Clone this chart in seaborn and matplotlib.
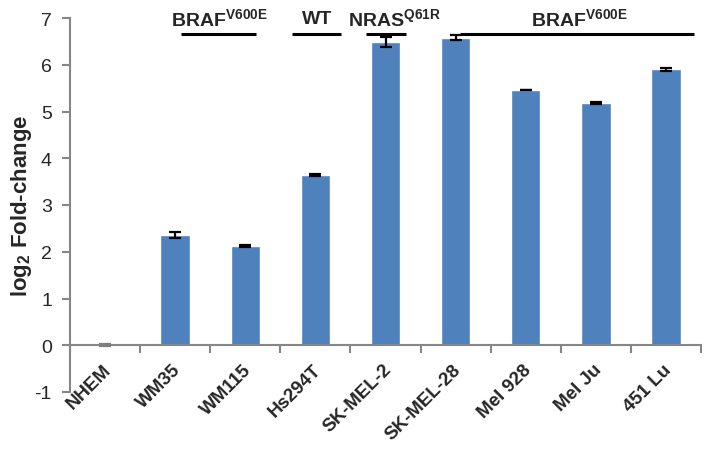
import numpy as np
import pandas as pd
import matplotlib
matplotlib.use("Agg")
import matplotlib.pyplot as plt
import matplotlib.transforms as mtransforms
import seaborn as sns

cells = ["NHEM", "WM35", "WM115", "Hs294T", "SK-MEL-2", "SK-MEL-28", "Mel 928", "Mel Ju", "451 Lu"]
values = [0.0, 2.36, 2.13, 3.64, 6.49, 6.58, 5.46, 5.19, 5.90]
errors = [0.02, 0.07, 0.02, 0.02, 0.10, 0.05, 0.01, 0.02, 0.04]

group_labels = [r"BRAF$^{V600E}$", "WT", r"NRAS$^{Q61R}$", r"BRAF$^{V600E}$"]
group_spans = [(1.08, 2.15), (2.66, 3.36), (3.72, 4.29), (5.06, 8.40)]
group_text_x = [1.63, 3.02, 4.12, 6.76]

sns.set_style("white")
plt.rcParams["font.family"] = ["Liberation Sans", "DejaVu Sans"]
plt.rcParams["axes.unicode_minus"] = False
plt.rcParams["mathtext.fontset"] = "custom"
plt.rcParams["mathtext.rm"] = "Liberation Sans:bold"
plt.rcParams["mathtext.bf"] = "Liberation Sans:bold"
plt.rcParams["mathtext.it"] = "Liberation Sans:bold"
plt.rcParams["mathtext.default"] = "bf"

df = pd.DataFrame({"cell": cells, "value": values})

fig = plt.figure(figsize=(7.14, 4.52), dpi=100)
ax = fig.add_axes([70 / 714, 1 - 393 / 452, 631 / 714, 374 / 452])

sns.barplot(data=df, x="cell", y="value", color="#4F81BD", saturation=1,
            width=0.42, ax=ax, errorbar=None)

xpos = np.arange(len(cells))
ecolors = ["#7f7f7f"] + ["black"] * (len(cells) - 1)
for xi, v, e, c in zip(xpos, values, errors, ecolors):
    ax.errorbar(xi, v, yerr=e, fmt="none", ecolor=c, elinewidth=1.6,
                capsize=4.5, capthick=1.6, zorder=5)

ax.set_xlim(-0.5, len(cells) - 0.5)
ax.set_ylim(-1, 7)
ax.set_yticks(range(-1, 8))
ax.tick_params(axis="y", direction="out", length=6, width=1.5, color="#868686",
               labelsize=14, pad=7, left=True)

for s in ["top", "right"]:
    ax.spines[s].set_visible(False)
for s in ["left", "bottom"]:
    ax.spines[s].set_color("#868686")
    ax.spines[s].set_linewidth(1.5)
ax.spines["bottom"].set_position(("data", 0))

ax.set_xticks(np.arange(-0.5, len(cells), 1.0))
ax.set_xticklabels([])
ax.tick_params(axis="x", which="major", direction="out", length=6, width=1.5,
               color="#868686", bottom=True)
ax.set_xticks(xpos, minor=True)
ax.set_xticklabels(cells, minor=True, rotation=45, ha="right", va="top",
                   rotation_mode="anchor", fontsize=13.5, fontweight="bold")
ax.tick_params(axis="x", which="minor", length=0, pad=11)
offset = mtransforms.ScaledTranslation(-3 / 100, 0, fig.dpi_scale_trans)
for lab in ax.get_xticklabels(minor=True):
    lab.set_transform(lab.get_transform() + offset)

ax.set_xlabel("")
ax.set_ylabel(r"log$_{2}$ Fold-change", fontsize=16, fontweight="bold")
ax.yaxis.set_label_coords(-0.057, 0.5)

for (x0, x1), tx, lab in zip(group_spans, group_text_x, group_labels):
    ax.plot([x0, x1], [6.66, 6.66], color="black", lw=2.2, clip_on=False,
            solid_capstyle="butt")
    ax.text(tx, 6.99, lab, ha="center", va="center", fontsize=14,
            fontweight="bold", clip_on=False)

fig.savefig("out.png", dpi=100)
